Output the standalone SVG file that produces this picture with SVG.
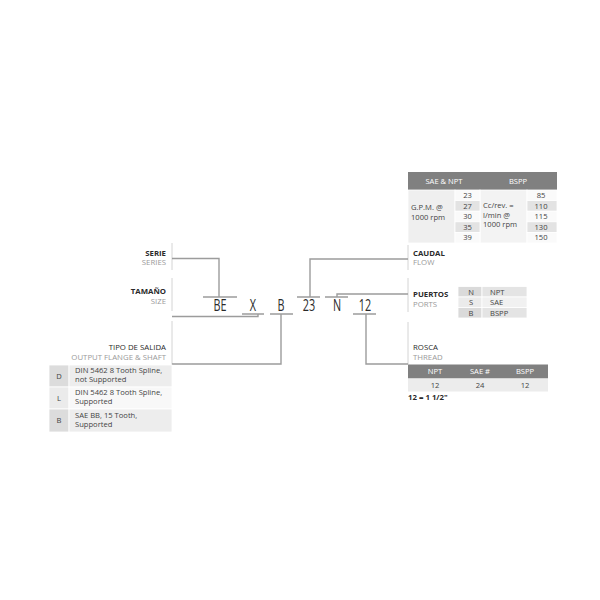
<svg xmlns="http://www.w3.org/2000/svg" width="600" height="600" viewBox="0 0 600 600">
<style>
text{font-family:"Open Sans","DejaVu Sans",sans-serif;}
.lb{font-size:7.8px;fill:#2a2a2a;font-weight:bold;}
.lr{font-size:7.8px;fill:#2a2a2a;}
.sub{font-size:7.8px;fill:#9a9a9a;}
.code{font-size:15.5px;fill:#2a2a2a;text-anchor:middle;}
.t{font-size:7.6px;fill:#444;}
.tc{font-size:7.6px;fill:#444;text-anchor:middle;}
.th{font-size:7.6px;fill:#fff;text-anchor:middle;}
.con{fill:none;stroke:#9c9c9c;stroke-width:1.4;}
.div{fill:none;stroke:#d4d4d4;stroke-width:1;}
.cell{stroke:#fff;stroke-width:0.8;}
</style>
<rect width="600" height="600" fill="#fff"/>

<g id="dividers">
<path class="div" d="M172 243V270M172 278V311M172 321V365M408 245V270M408 278V312M408 322V364"/>
</g>

<g id="connectors">
<path class="con" d="M172 258.5H219V297M203 297H237"/>
<path class="con" d="M172 316.5H258V314M242 314H264"/>
<path class="con" d="M172 364H281V314M270 314H293"/>
<path class="con" d="M408 259H310V297M297 297H320"/>
<path class="con" d="M408 294H337V297M325 297H348"/>
<path class="con" d="M408 364H366V314M353 314H376"/>
</g>

<g id="code">
<text class="code" transform="translate(220 311) scale(0.7 1)">BE</text>
<text class="code" transform="translate(253 311) scale(0.7 1)">X</text>
<text class="code" transform="translate(281 311) scale(0.7 1)">B</text>
<text class="code" transform="translate(309 311) scale(0.7 1)">23</text>
<text class="code" transform="translate(337 311) scale(0.7 1)">N</text>
<text class="code" transform="translate(365 311) scale(0.7 1)">12</text>
</g>

<g id="serie" text-anchor="end">
<text class="lb" x="166" y="255.5">SERIE</text>
<text class="sub" x="166" y="265">SERIES</text>
</g>

<g id="tamano" text-anchor="end">
<text class="lb" x="166" y="294">TAMAÑO</text>
<text class="sub" x="166" y="303.5">SIZE</text>
</g>

<g id="salida">
<text class="lr" x="166" y="350" text-anchor="end">TIPO DE SALIDA</text>
<text class="sub" x="166" y="359.7" text-anchor="end">OUTPUT FLANGE &amp; SHAFT</text>
<rect class="cell" x="49" y="365" width="20" height="22" fill="#dcdcdc"/>
<rect class="cell" x="69" y="365" width="103" height="22" fill="#ededed"/>
<rect class="cell" x="49" y="387" width="20" height="22" fill="#ebebeb"/>
<rect class="cell" x="69" y="387" width="103" height="22" fill="#f8f8f8"/>
<rect class="cell" x="49" y="409" width="20" height="23" fill="#dcdcdc"/>
<rect class="cell" x="69" y="409" width="103" height="23" fill="#ededed"/>
<text class="tc" x="59" y="378.5">D</text>
<text class="tc" x="59" y="400.5">L</text>
<text class="tc" x="59" y="423">B</text>
<text class="t" x="75" y="373">DIN 5462 8 Tooth Spline,</text>
<text class="t" x="75" y="382">not Supported</text>
<text class="t" x="75" y="395">DIN 5462 8 Tooth Spline,</text>
<text class="t" x="75" y="404">Supported</text>
<text class="t" x="75" y="417.5">SAE BB, 15 Tooth,</text>
<text class="t" x="75" y="426.5">Supported</text>
</g>

<g id="caudal">
<text class="lb" x="413" y="255.7">CAUDAL</text>
<text class="sub" x="413" y="265">FLOW</text>
<rect x="408" y="172" width="149" height="18" fill="#808080"/>
<text class="th" x="444" y="184">SAE &amp; NPT</text>
<text class="th" x="518" y="184">BSPP</text>
<rect class="cell" x="408" y="190" width="47" height="53" fill="#efefef"/>
<rect class="cell" x="480" y="190" width="47" height="53" fill="#f3f3f3"/>
<rect class="cell" x="455" y="190" width="25" height="10.6" fill="#fafafa"/>
<rect class="cell" x="455" y="200.6" width="25" height="10.6" fill="#e3e3e3"/>
<rect class="cell" x="455" y="211.2" width="25" height="10.6" fill="#fafafa"/>
<rect class="cell" x="455" y="221.8" width="25" height="10.6" fill="#e3e3e3"/>
<rect class="cell" x="455" y="232.4" width="25" height="10.6" fill="#fafafa"/>
<rect class="cell" x="527" y="190" width="30" height="10.6" fill="#fafafa"/>
<rect class="cell" x="527" y="200.6" width="30" height="10.6" fill="#e3e3e3"/>
<rect class="cell" x="527" y="211.2" width="30" height="10.6" fill="#fafafa"/>
<rect class="cell" x="527" y="221.8" width="30" height="10.6" fill="#e3e3e3"/>
<rect class="cell" x="527" y="232.4" width="30" height="10.6" fill="#fafafa"/>
<text class="t" x="411" y="210">G.P.M. @</text>
<text class="t" x="411" y="220">1000 rpm</text>
<text class="t" x="483" y="208.3">Cc/rev. =</text>
<text class="t" x="483" y="217.5">l/min @</text>
<text class="t" x="483" y="226.7">1000 rpm</text>
<text class="tc" x="467.5" y="198">23</text>
<text class="tc" x="467.5" y="208.6">27</text>
<text class="tc" x="467.5" y="219.2">30</text>
<text class="tc" x="467.5" y="229.8">35</text>
<text class="tc" x="467.5" y="240.4">39</text>
<text class="tc" x="541" y="198">85</text>
<text class="tc" x="541" y="208.6">110</text>
<text class="tc" x="541" y="219.2">115</text>
<text class="tc" x="541" y="229.8">130</text>
<text class="tc" x="541" y="240.4">150</text>
</g>

<g id="puertos">
<text class="lb" x="413" y="297.3">PUERTOS</text>
<text class="sub" x="413" y="306.7">PORTS</text>
<rect class="cell" x="458" y="286.5" width="24" height="10.5" fill="#dadada"/>
<rect class="cell" x="482" y="286.5" width="45" height="10.5" fill="#e4e4e4"/>
<rect class="cell" x="458" y="297" width="24" height="10.5" fill="#ebebeb"/>
<rect class="cell" x="482" y="297" width="45" height="10.5" fill="#f1f1f1"/>
<rect class="cell" x="458" y="307.5" width="24" height="10.5" fill="#dadada"/>
<rect class="cell" x="482" y="307.5" width="45" height="10.5" fill="#e4e4e4"/>
<text class="tc" x="471" y="294.5">N</text>
<text class="tc" x="471" y="305">S</text>
<text class="tc" x="471" y="315.5">B</text>
<text class="t" x="490" y="294.5">NPT</text>
<text class="t" x="490" y="305">SAE</text>
<text class="t" x="490" y="315.5">BSPP</text>
</g>

<g id="rosca">
<text class="lr" x="413" y="350">ROSCA</text>
<text class="sub" x="413" y="359.7">THREAD</text>
<rect x="408" y="364.5" width="140" height="14" fill="#808080"/>
<text class="th" x="435" y="374.3">NPT</text>
<text class="th" x="480" y="374.3">SAE #</text>
<text class="th" x="525" y="374.3">BSPP</text>
<rect x="408" y="378.5" width="140" height="13" fill="#ececec"/>
<text class="tc" x="435" y="388">12</text>
<text class="tc" x="480" y="388">24</text>
<text class="tc" x="525" y="388">12</text>
<text class="lb" x="408" y="399.5">12 = 1 1/2"</text>
</g>
</svg>
